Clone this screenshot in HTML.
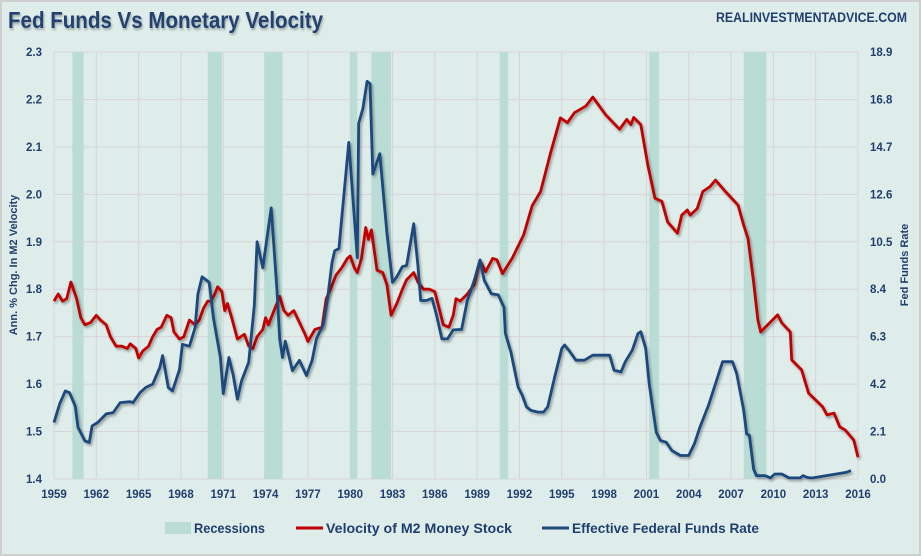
<!DOCTYPE html>
<html><head><meta charset="utf-8"><style>
body{margin:0;background:#fff;}
#wrap{position:relative;width:921px;height:556px;overflow:hidden;}
svg text{font-family:"Liberation Sans",sans-serif;fill:#203f70;}
</style></head><body>
<div id="wrap">
<svg id="chart" width="921" height="556" xmlns="http://www.w3.org/2000/svg">
<defs><filter id="sh" x="-5%" y="-5%" width="110%" height="110%"><feDropShadow dx="1.5" dy="2" stdDeviation="1.2" flood-color="#000" flood-opacity="0.35"/></filter>
<filter id="tsh"><feDropShadow dx="1" dy="2" stdDeviation="1" flood-color="#000" flood-opacity="0.3"/></filter></defs>
<rect x="1" y="1" width="919" height="554" fill="#deede9" stroke="#cfcfcf" stroke-width="2"/>
<text x="8" y="28" font-size="23" font-weight="bold" textLength="315" lengthAdjust="spacingAndGlyphs" filter="url(#tsh)">Fed Funds Vs Monetary Velocity</text>
<text x="716" y="22" font-size="13.5" font-weight="bold" textLength="191" lengthAdjust="spacingAndGlyphs">REALINVESTMENTADVICE.COM</text>
<g id="grid"></g><g id="rec"></g><g id="axes"></g><g id="lines"></g>
<text transform="translate(17,265) rotate(-90)" font-size="11" font-weight="bold" text-anchor="middle">Ann. % Chg. In M2 Velocity</text>
<text transform="translate(908,265) rotate(-90)" font-size="11" font-weight="bold" text-anchor="middle">Fed Funds Rate</text>
<g>
<rect x="165" y="522" width="26" height="12" fill="#b9dcd5"/>
<text x="194" y="533" font-size="14" font-weight="bold" textLength="71" lengthAdjust="spacingAndGlyphs">Recessions</text>
<line x1="296" y1="528" x2="323" y2="528" stroke="#c00000" stroke-width="3"/>
<text x="326" y="533" font-size="14" font-weight="bold" textLength="186" lengthAdjust="spacingAndGlyphs">Velocity of M2 Money Stock</text>
<line x1="542" y1="528" x2="569" y2="528" stroke="#1f497d" stroke-width="3"/>
<text x="572" y="533" font-size="14" font-weight="bold" textLength="187" lengthAdjust="spacingAndGlyphs">Effective Federal Funds Rate</text>
</g>
</svg></div>
<script>
const xTicks=[1959,1962,1965,1968,1971,1974,1977,1980,1983,1986,1989,1992,1995,1998,2001,2004,2007,2010,2013,2016];
const leftTicks=[1.4,1.5,1.6,1.7,1.8,1.9,2.0,2.1,2.2,2.3];
const rightTicks=[0,2.1,4.2,6.3,8.4,10.5,12.6,14.7,16.8,18.9];
const recStart=[1960.3,1969.9,1973.9,1980.0,1981.5,1990.6,2001.2,2007.9];
const recEnd=[1961.1,1970.9,1975.2,1980.5,1982.9,1991.2,2001.9,2009.5];
const velYears=[1959.0,1959.3,1959.6,1959.9,1960.2,1960.6,1960.9,1961.2,1961.6,1962.0,1962.3,1962.7,1963.0,1963.4,1963.8,1964.2,1964.4,1964.8,1965.0,1965.3,1965.7,1966.0,1966.3,1966.6,1967.0,1967.3,1967.5,1967.9,1968.2,1968.6,1969.0,1969.3,1969.6,1969.9,1970.1,1970.4,1970.6,1970.9,1971.1,1971.3,1971.6,1972.0,1972.5,1972.8,1973.1,1973.4,1973.8,1974.0,1974.2,1974.6,1975.0,1975.3,1975.6,1976.0,1976.4,1976.8,1977.0,1977.5,1978.0,1978.3,1978.6,1979.0,1979.4,1979.8,1980.0,1980.3,1980.5,1980.8,1981.1,1981.3,1981.5,1981.9,1982.3,1982.6,1982.9,1983.3,1983.7,1984.0,1984.5,1984.8,1985.2,1985.6,1986.0,1986.3,1986.6,1987.0,1987.3,1987.5,1987.8,1988.3,1988.8,1989.2,1989.6,1990.1,1990.4,1990.8,1991.5,1992.3,1992.9,1993.5,1994.2,1994.9,1995.4,1995.9,1996.7,1997.2,1998.1,1999.1,1999.6,1999.9,2000.1,2000.6,2001.1,2001.6,2002.1,2002.5,2003.2,2003.5,2003.9,2004.1,2004.6,2005.0,2005.5,2005.9,2006.6,2007.5,2007.9,2008.2,2008.6,2008.9,2009.1,2010.3,2010.6,2011.2,2011.3,2012.0,2012.5,2013.5,2013.8,2014.3,2014.7,2015.1,2015.7,2016.0];
const velValues=[1.775,1.79,1.775,1.78,1.815,1.78,1.74,1.725,1.73,1.745,1.735,1.725,1.70,1.68,1.68,1.675,1.685,1.675,1.655,1.67,1.68,1.70,1.715,1.72,1.745,1.74,1.71,1.695,1.70,1.735,1.725,1.735,1.76,1.775,1.775,1.79,1.805,1.795,1.755,1.77,1.74,1.695,1.705,1.68,1.675,1.70,1.715,1.74,1.725,1.755,1.785,1.755,1.745,1.755,1.73,1.705,1.69,1.715,1.72,1.78,1.80,1.83,1.845,1.865,1.87,1.845,1.835,1.865,1.93,1.905,1.925,1.84,1.835,1.81,1.745,1.77,1.80,1.82,1.835,1.815,1.80,1.80,1.795,1.76,1.725,1.72,1.745,1.78,1.775,1.79,1.81,1.86,1.837,1.865,1.862,1.833,1.866,1.915,1.976,2.006,2.087,2.161,2.151,2.172,2.186,2.205,2.168,2.137,2.158,2.147,2.162,2.147,2.062,1.992,1.985,1.942,1.918,1.956,1.967,1.956,1.970,2.006,2.016,2.030,2.006,1.977,1.935,1.907,1.815,1.735,1.71,1.746,1.729,1.71,1.651,1.63,1.581,1.552,1.535,1.539,1.51,1.503,1.482,1.446];
const ffYears=[1959.0,1959.4,1959.8,1960.1,1960.5,1960.7,1961.2,1961.5,1961.7,1962.1,1962.7,1963.2,1963.7,1964.4,1964.6,1965.1,1965.5,1966.0,1966.5,1966.7,1967.1,1967.4,1967.9,1968.1,1968.6,1969.0,1969.2,1969.5,1970.0,1970.3,1970.8,1971.0,1971.4,1971.7,1972.0,1972.3,1972.8,1973.2,1973.4,1973.8,1974.4,1974.8,1975.0,1975.2,1975.4,1975.9,1976.4,1976.9,1977.3,1977.6,1978.1,1978.4,1978.7,1978.9,1979.2,1979.9,1980.5,1980.6,1980.9,1981.2,1981.4,1981.6,1982.1,1982.6,1983.0,1983.3,1983.7,1984.0,1984.5,1984.8,1985.0,1985.4,1985.8,1986.1,1986.5,1986.9,1987.3,1987.9,1988.3,1988.8,1989.2,1989.5,1990.0,1990.5,1990.9,1991.0,1991.4,1991.9,1992.2,1992.5,1992.8,1993.3,1993.7,1994.0,1994.5,1995.0,1995.2,1995.5,1996.0,1996.6,1997.2,1998.4,1998.7,1999.2,1999.5,2000.0,2000.4,2000.6,2000.95,2001.2,2001.4,2001.7,2002.0,2002.4,2002.8,2003.4,2004.0,2004.4,2004.8,2005.4,2005.9,2006.4,2007.1,2007.4,2007.9,2008.1,2008.3,2008.6,2008.8,2009.4,2009.8,2010.1,2010.6,2011.1,2011.9,2012.1,2012.4,2012.6,2012.8,2015.2,2015.5,2016.0];
const ffValues=[2.5,3.32,3.9,3.82,3.23,2.29,1.68,1.62,2.35,2.5,2.88,2.94,3.38,3.42,3.38,3.82,4.05,4.2,4.94,5.46,4.05,3.9,4.85,5.96,5.88,6.7,8.19,8.95,8.7,7.14,5.38,3.78,5.38,4.62,3.53,4.35,5.17,7.67,10.5,9.35,12.0,8.4,6.2,5.38,6.1,4.8,5.25,4.58,5.25,6.2,6.85,8.0,9.55,10.1,10.2,14.9,9.8,15.75,16.4,17.6,17.5,13.5,14.4,10.9,8.7,8.95,9.4,9.45,11.3,9.45,7.9,7.9,8.0,7.3,6.2,6.2,6.6,6.62,7.9,8.8,9.7,8.8,8.2,8.15,7.6,6.45,5.6,4.07,3.7,3.19,3.04,2.96,2.96,3.19,4.52,5.78,5.93,5.7,5.26,5.26,5.48,5.48,4.81,4.74,5.19,5.7,6.44,6.52,5.78,4.22,3.33,2.07,1.7,1.63,1.26,1.04,1.04,1.56,2.3,3.26,4.22,5.19,5.19,4.67,3.04,2.0,1.93,0.44,0.15,0.15,0.05,0.22,0.22,0.05,0.05,0.15,0.07,0.05,0.05,0.3,0.37];

const X0=54,X1=858,Y0=479,Y1=52;
const xs=y=>X0+(y-1959)/(2016-1959)*(X1-X0);
const yl=v=>Y0-(v-1.4)/(2.3-1.4)*(Y0-Y1);
const yr=v=>Y0-v/18.9*(Y0-Y1);
const NS='http://www.w3.org/2000/svg';
function mk(tag,attrs,parent){const e=document.createElementNS(NS,tag);for(const k in attrs)e.setAttribute(k,attrs[k]);document.getElementById(parent).appendChild(e);return e;}
leftTicks.forEach((v,i)=>{
  const g=mk('line',{x1:X0,x2:X1,y1:yl(v),y2:yl(v),stroke:'#d9d2d9','stroke-width':1},'grid');
  
  
  const t=mk('text',{x:42,y:yl(v)+4,'font-size':11.5,'font-weight':'bold','text-anchor':'end'},'axes');t.textContent=v.toFixed(1);
  
  
});
rightTicks.forEach(v=>{
  const t=mk('text',{x:870,y:yr(v)+4,'font-size':11.5,'font-weight':'bold'},'axes');t.textContent=v.toFixed(1);
  
  
});
xTicks.forEach(y=>{
  const g=mk('line',{x1:xs(y),x2:xs(y),y1:Y1,y2:Y0,stroke:'#d9d2d9','stroke-width':1},'grid');
  
  
  const t=mk('text',{x:xs(y),y:498,'font-size':11.5,'font-weight':'bold','text-anchor':'middle'},'axes');t.textContent=y;
  
  
});
recStart.forEach((s,i)=>{
  const r=mk('rect',{x:xs(s),y:Y1,width:xs(recEnd[i])-xs(s),height:Y0-Y1,fill:'#b9dcd5'},'rec');
  
  
});
const vp=velYears.map((y,i)=>xs(y).toFixed(1)+','+yl(velValues[i]).toFixed(1)).join(' ');
const fp=ffYears.map((y,i)=>xs(y).toFixed(1)+','+yr(ffValues[i]).toFixed(1)).join(' ');
const l1=mk('polyline',{points:vp,fill:'none',stroke:'#c00000','stroke-width':2.8,'stroke-linejoin':'round',filter:'url(#sh)'},'lines');


const l2=mk('polyline',{points:fp,fill:'none',stroke:'#1f497d','stroke-width':2.8,'stroke-linejoin':'round',filter:'url(#sh)'},'lines');


</script>
</body></html>
